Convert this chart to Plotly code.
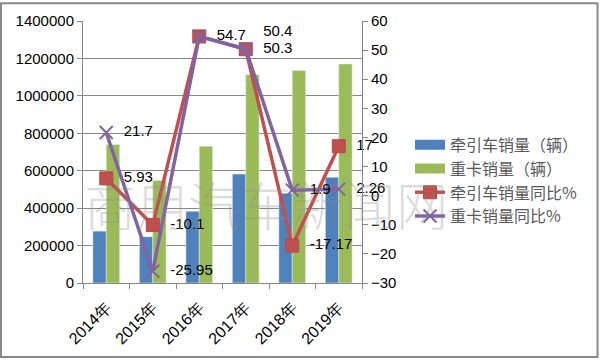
import plotly.graph_objects as go

years = ["2014年", "2015年", "2016年", "2017年", "2018年", "2019年"]
tractor_sales = [277000, 247000, 383000, 582000, 480000, 565000]
heavy_sales = [740000, 548000, 731000, 1113000, 1136000, 1170000]
tractor_yoy = [5.93, -10.1, 54.7, 50.3, -17.17, 17]
heavy_yoy = [21.7, -25.95, 54.7, 50.4, 1.9, 2.26]
names = ["牵引车销量（辆）", "重卡销量（辆）", "牵引车销量同比%", "重卡销量同比%"]

BLUE, GREEN, RED, PURPLE = "#4F81BD", "#9BBB59", "#C0504D", "#8064A2"
GRID = "#878787"
W, H = 600, 360
ML, MR, MT, MB = 83, 238, 19, 77
PW, PH = W - ML - MR, H - MT - MB

def px_x(p):
    return (p - ML) / PW

def px_y(p):
    return (H - MB - p) / PH

def fmt(v):
    return "  " + ("%g" % v)

tractor_text = [fmt(v) for v in tractor_yoy]
# where both series share the same point, the reference shows a single label
heavy_text = ["" if h == t else fmt(h) for h, t in zip(heavy_yoy, tractor_yoy)]

fig = go.Figure()
fig.add_trace(go.Bar(x=years, y=tractor_sales, marker_color=BLUE, showlegend=False, name=names[0]))
fig.add_trace(go.Bar(x=years, y=heavy_sales, marker_color=GREEN, showlegend=False, name=names[1]))
fig.add_trace(go.Scatter(x=[None], y=[None], mode="lines", line=dict(color=BLUE, width=10), name=names[0]))
fig.add_trace(go.Scatter(x=[None], y=[None], mode="lines", line=dict(color=GREEN, width=10), name=names[1]))

txt_font = dict(family="Liberation Sans", size=15, color="#000000")
fig.add_trace(go.Scatter(
    x=years, y=tractor_yoy, yaxis="y2", name=names[2],
    mode="lines+markers+text", cliponaxis=False,
    line=dict(color=RED, width=3.5),
    marker=dict(symbol="square", size=13, color=RED, line=dict(color="#B84845", width=1)),
    text=tractor_text, textposition="middle right", textfont=txt_font,
))
heavy_pos = ["middle right", "middle right", "middle right", "top right", "middle right", "middle right"]
fig.add_trace(go.Scatter(
    x=years, y=heavy_yoy, yaxis="y2", name=names[3],
    mode="lines+markers+text", cliponaxis=False,
    line=dict(color=PURPLE, width=3.5),
    marker=dict(symbol="x-thin", size=13, color=PURPLE, line=dict(color=PURPLE, width=2)),
    text=heavy_text, textposition=heavy_pos, textfont=txt_font,
))

axis_font = dict(family="Liberation Sans", size=15, color="#000000")
fig.update_layout(
    width=W, height=H, autosize=False,
    margin=dict(l=ML, r=MR, t=MT, b=MB),
    paper_bgcolor="white", plot_bgcolor="white",
    barmode="group", bargap=0.425, bargroupgap=0,
    showlegend=True,
    legend=dict(
        x=px_x(410), y=px_y(180), xanchor="left", yanchor="middle",
        font=dict(family="Noto Sans CJK SC", size=16, color="#595959"),
        bgcolor="rgba(0,0,0,0)", tracegroupgap=0,
    ),
    xaxis=dict(
        type="category", tickson="boundaries", ticks="outside", ticklen=5,
        tickcolor=GRID, showline=True, linecolor=GRID, linewidth=1,
        tickangle=-45, ticklabelstandoff=8,
        tickfont=dict(family="Liberation Sans", size=16, color="#000000"),
        showgrid=False,
    ),
    yaxis=dict(
        range=[0, 1400000], dtick=200000, tickformat="d",
        showgrid=True, gridcolor=GRID, gridwidth=1, zeroline=False,
        showline=True, linecolor=GRID, ticks="outside", ticklen=5, tickcolor=GRID,
        tickfont=axis_font,
    ),
    yaxis2=dict(
        overlaying="y", side="right", range=[-30, 60], dtick=10,
        showgrid=False, zeroline=False,
        showline=True, linecolor=GRID, ticks="outside", ticklen=5, tickcolor=GRID,
        tickfont=axis_font,
    ),
)

fig.add_annotation(
    text="商用汽车新闻网", xref="paper", yref="paper",
    x=px_x(266), y=px_y(203), xanchor="center", yanchor="middle", showarrow=False,
    font=dict(family="Noto Sans CJK SC", size=52, color="rgba(140,140,140,0.3)", weight=300),
)

fig.add_shape(
    type="rect", xref="paper", yref="paper",
    x0=px_x(1), x1=px_x(597.5), y0=px_y(357.5), y1=px_y(1),
    line=dict(color="#898989", width=2), fillcolor="rgba(0,0,0,0)", layer="above",
)

fig.write_html(
    "out.html",
    config={"displayModeBar": False},
    post_script="document.body.style.margin='0';document.body.style.padding='0';",
)
